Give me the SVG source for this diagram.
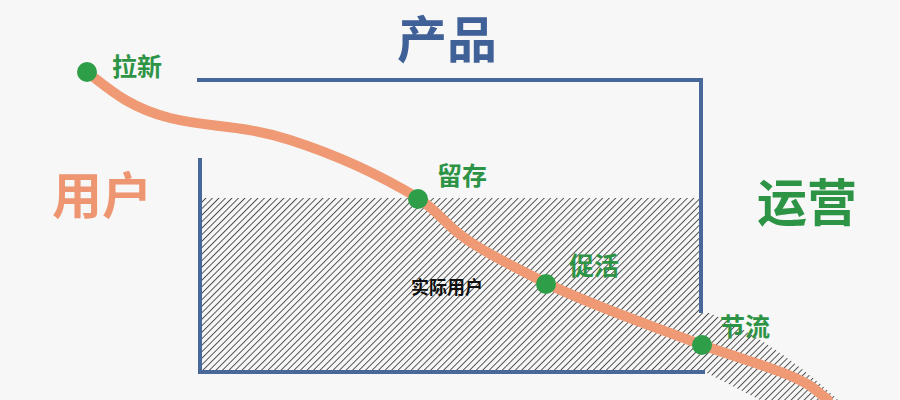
<svg xmlns="http://www.w3.org/2000/svg" width="900" height="400" viewBox="0 0 900 400">
<defs>
<pattern id="hatch" patternUnits="userSpaceOnUse" width="4.6" height="8" patternTransform="rotate(45)">
<line x1="0.5" y1="0" x2="0.5" y2="8" stroke="#222" stroke-width="0.8"/>
</pattern>
<style>
.box{fill:none;stroke:#48689A;stroke-width:4;}
.curve{fill:none;stroke:#EF9A74;stroke-width:10;stroke-linecap:round;stroke-linejoin:round;}
.dot{fill:#2E9E48;}
.lbl{font-family:"Noto Sans CJK SC","Noto Sans",sans-serif;font-weight:bold;fill:#2E9445;font-size:25px;}
.big{font-family:"Noto Sans CJK SC","Noto Sans",sans-serif;font-weight:bold;font-size:50px;}
</style>
</defs>
<rect width="900" height="400" fill="#F7F7F7"/>
<g id="hatched-area">
<path d="M202,198 L699,198 L699,313 L710,313 Q780,345 838,400 L760,400 L705,372 L202,372 Z" fill="url(#hatch)"/>
</g>
<g id="product-box">
<path class="box" d="M197,80 L701,80 L701,313"/>
<path class="box" d="M200,158 L200,372 L705,372"/>
</g>
<g id="connectors">
<path class="curve" d="M87,72 C110,90 130,108 170,118 C210,128 240,124 290,140 C340,156 380,175 418,198 C440,212 448,230 480,248 C505,263 525,272 546,283 C590,305 650,325 702,345 C750,362 790,372 812,387 L828,400"/>
</g>
<g id="node-laxin">
<circle class="dot" cx="87" cy="72" r="10"/>
<text class="lbl" x="112" y="76">拉新</text>
</g>
<g id="node-liucun">
<circle class="dot" cx="418" cy="199" r="10"/>
<text class="lbl" x="437" y="185">留存</text>
</g>
<g id="node-cuhuo">
<circle class="dot" cx="546" cy="284" r="10"/>
<text class="lbl" x="569" y="275">促活</text>
</g>
<g id="node-jieliu">
<circle class="dot" cx="702" cy="345" r="10"/>
<text class="lbl" x="720" y="336">节流</text>
</g>
<g id="titles">
<text class="big" x="397" y="58" fill="#3F6198">产品</text>
<text class="big" x="52" y="214" fill="#EE9672">用户</text>
<text class="big" x="757" y="221" fill="#2E9445">运营</text>
<text x="411" y="294" font-family="Noto Sans CJK SC,Noto Sans,sans-serif" font-size="18" font-weight="bold" fill="#111">实际用户</text>
</g>
</svg>
